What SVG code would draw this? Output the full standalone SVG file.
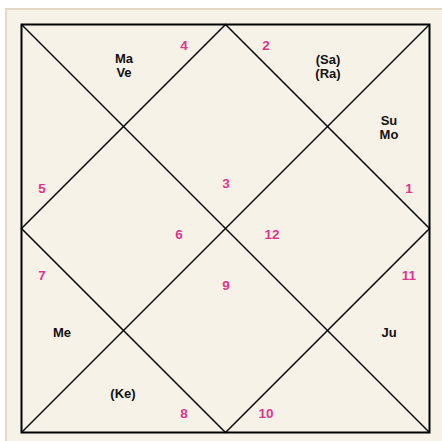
<svg xmlns="http://www.w3.org/2000/svg" width="442" height="441" viewBox="0 0 442 441">
<style>
.num{font-family:"Liberation Sans",Arial,sans-serif;font-weight:bold;font-size:13.5px;fill:#e0358c;text-anchor:middle;dominant-baseline:central}
.pl{font-family:"Liberation Sans",Arial,sans-serif;font-weight:bold;font-size:13px;fill:#111;text-anchor:middle;dominant-baseline:central}
.ln{stroke:#000;stroke-width:1.5;fill:none}
</style>
<rect x="0" y="0" width="442" height="441" fill="#ffffff"/>
<rect x="6" y="9" width="440" height="436" fill="#f6f2e8" stroke="#e4d9c4" stroke-width="2"/>
<g id="connectors">
<rect x="21.5" y="24.5" width="408" height="408" stroke="#000" stroke-width="2" fill="none"/>
<line class="ln" x1="21.5" y1="24.5" x2="429.5" y2="432.5"/>
<line class="ln" x1="429.5" y1="24.5" x2="21.5" y2="432.5"/>
<polygon class="ln" points="225.5,24.5 429.5,228.5 225.5,432.5 21.5,228.5"/>
</g>
<g id="h4"><text class="num" x="184" y="45">4</text><text class="pl" x="124" y="58">Ma</text><text class="pl" x="124" y="72">Ve</text></g>
<g id="h2"><text class="num" x="266" y="45">2</text><text class="pl" x="328" y="59">(Sa)</text><text class="pl" x="328" y="73">(Ra)</text></g>
<g id="h1"><text class="num" x="409" y="188">1</text><text class="pl" x="389" y="120">Su</text><text class="pl" x="389" y="134">Mo</text></g>
<g id="h3"><text class="num" x="226" y="183">3</text></g>
<g id="h5"><text class="num" x="42" y="188">5</text></g>
<g id="h6"><text class="num" x="179" y="234">6</text></g>
<g id="h12"><text class="num" x="272" y="234">12</text></g>
<g id="h9"><text class="num" x="226" y="285">9</text></g>
<g id="h7"><text class="num" x="42" y="275">7</text><text class="pl" x="62" y="332">Me</text></g>
<g id="h11"><text class="num" x="409" y="275">11</text><text class="pl" x="389" y="332">Ju</text></g>
<g id="h8"><text class="num" x="184" y="413">8</text><text class="pl" x="123" y="393">(Ke)</text></g>
<g id="h10"><text class="num" x="266" y="413">10</text></g>
</svg>
